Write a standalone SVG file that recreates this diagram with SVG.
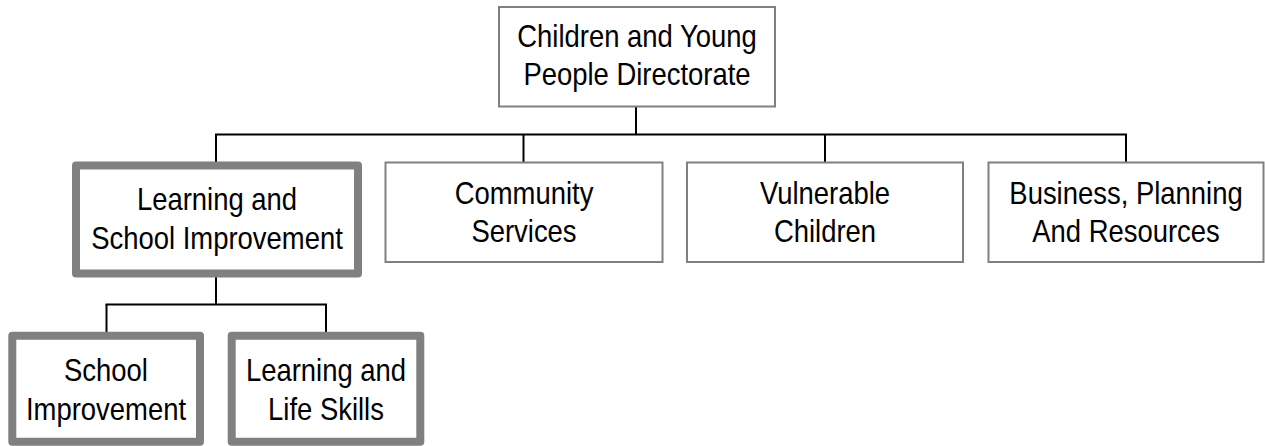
<svg xmlns="http://www.w3.org/2000/svg" width="1265" height="446" viewBox="0 0 1265 446">
<style>
.thin{fill:#fff;stroke:#808080;stroke-width:2}
.thick{fill:#fff;stroke:#808080;stroke-width:8;stroke-linejoin:round}
.lbl{font-family:"Liberation Sans",Arial,sans-serif;font-size:31px;fill:#000;text-anchor:middle}
#connectors line{stroke:#000;stroke-width:2}
</style>
<rect width="1265" height="446" fill="#fff"/>
<g id="connectors">
<line x1="636" y1="107" x2="636" y2="134.5"/>
<line x1="215" y1="134.5" x2="1127" y2="134.5"/>
<line x1="216" y1="134.5" x2="216" y2="162"/>
<line x1="523.5" y1="134.5" x2="523.5" y2="162"/>
<line x1="825" y1="134.5" x2="825" y2="162"/>
<line x1="1126" y1="134.5" x2="1126" y2="162"/>
<line x1="216" y1="277" x2="216" y2="304.5"/>
<line x1="105.5" y1="304.5" x2="327" y2="304.5"/>
<line x1="106.5" y1="304.5" x2="106.5" y2="332"/>
<line x1="326" y1="304.5" x2="326" y2="332"/>
</g>
<g id="n-top">
<rect class="thin" x="499" y="7" width="276" height="99.5"/>
<text class="lbl" transform="translate(637,47) scale(0.885,1)">Children and Young</text>
<text class="lbl" transform="translate(637,85) scale(0.885,1)">People Directorate</text>
</g>
<g id="n-lsi">
<rect class="thick" x="76" y="165.5" width="282" height="108"/>
<text class="lbl" transform="translate(217,210) scale(0.885,1)">Learning and</text>
<text class="lbl" transform="translate(217,249) scale(0.885,1)">School Improvement</text>
</g>
<g id="n-community">
<rect class="thin" x="385.5" y="162.5" width="277" height="99.5"/>
<text class="lbl" transform="translate(524,203.5) scale(0.885,1)">Community</text>
<text class="lbl" transform="translate(524,241.5) scale(0.885,1)">Services</text>
</g>
<g id="n-vulnerable">
<rect class="thin" x="687" y="162.5" width="276" height="99.5"/>
<text class="lbl" transform="translate(825,203.5) scale(0.885,1)">Vulnerable</text>
<text class="lbl" transform="translate(825,241.5) scale(0.885,1)">Children</text>
</g>
<g id="n-business">
<rect class="thin" x="988.5" y="162.5" width="275" height="99.5"/>
<text class="lbl" transform="translate(1126,203.5) scale(0.885,1)">Business, Planning</text>
<text class="lbl" transform="translate(1126,241.5) scale(0.885,1)">And Resources</text>
</g>
<g id="n-school">
<rect class="thick" x="12.3" y="335.7" width="187.7" height="106"/>
<text class="lbl" transform="translate(106,381) scale(0.885,1)">School</text>
<text class="lbl" transform="translate(106,420) scale(0.885,1)">Improvement</text>
</g>
<g id="n-life">
<rect class="thick" x="231.7" y="335.7" width="188.6" height="106"/>
<text class="lbl" transform="translate(326,381) scale(0.885,1)">Learning and</text>
<text class="lbl" transform="translate(326,420) scale(0.885,1)">Life Skills</text>
</g>
</svg>
